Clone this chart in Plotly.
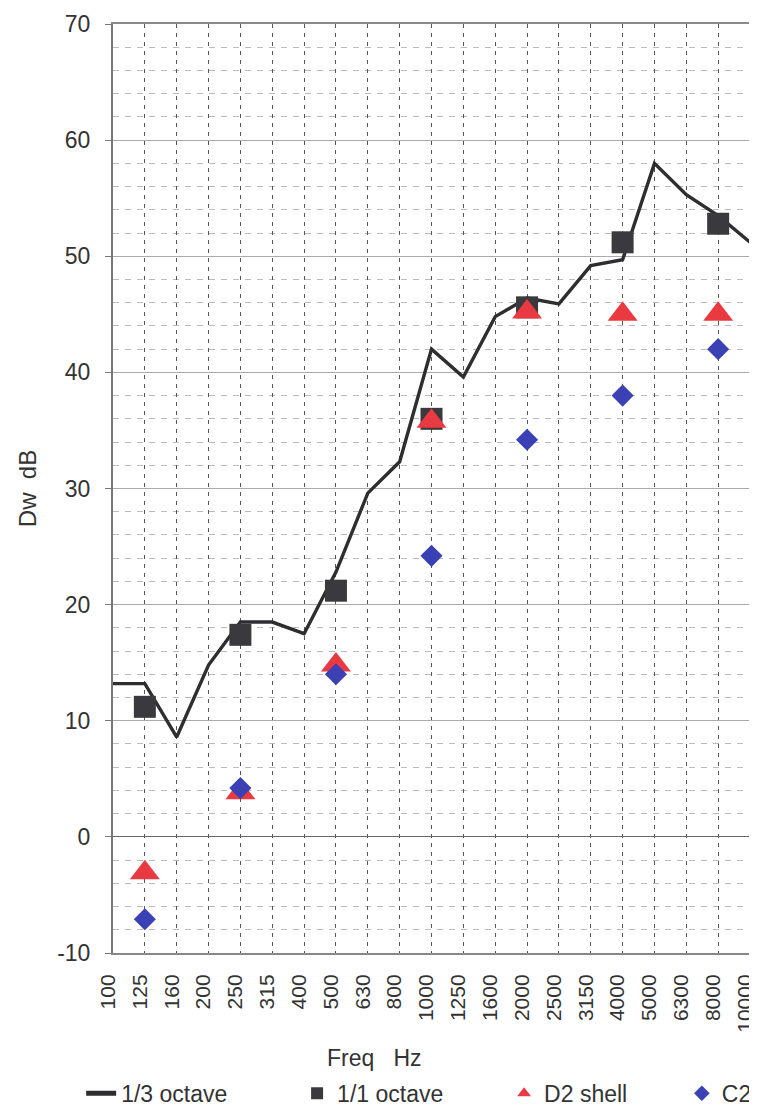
import plotly.graph_objects as go

freqs = ["100", "125", "160", "200", "250", "315", "400", "500", "630", "800",
         "1000", "1250", "1600", "2000", "2500", "3150", "4000", "5000", "6300",
         "8000", "10000"]
third_octave = [13.2, 13.2, 8.6, 14.8, 18.5, 18.5, 17.5, 22.8, 29.6, 32.3,
                42.0, 39.6, 44.8, 46.4, 45.9, 49.2, 49.7, 58.0, 55.3, 53.5, 51.2]

oct_freqs = ["125", "250", "500", "1000", "2000", "4000", "8000"]
one_octave = [11.2, 17.4, 21.2, 36.0, 45.6, 51.2, 52.8]
d2_shell = [-3.1, 3.8, 14.8, 35.8, 45.2, 45.0, 45.0]
c2 = [-7.1, 4.2, 14.0, 24.2, 34.2, 38.0, 42.0]

y_tick_vals = [-10, 0, 10, 20, 30, 40, 50, 60, 70]
y_tick_text = ["-10", "0", "10", "20", "30", "40", "50", "60", "70"]

font_family = "Liberation Sans, Arial, sans-serif"
txt = "#333"

fig = go.Figure()
fig.add_trace(go.Scatter(x=freqs, y=third_octave, mode="lines", name="1/3 octave",
                         line=dict(color="#2e2e30", width=3.4), legend="legend"))
fig.add_trace(go.Scatter(x=oct_freqs, y=one_octave, mode="markers", name="1/1 octave",
                         marker=dict(symbol="square", size=22, color="#3a3a3e"),
                         legend="legend2"))
fig.add_trace(go.Scatter(x=oct_freqs, y=d2_shell, mode="markers", name="D2 shell",
                         marker=dict(symbol="triangle-up", size=26, color="#e83a40"),
                         legend="legend3"))
fig.add_trace(go.Scatter(x=oct_freqs, y=c2, mode="markers", name="C2",
                         marker=dict(symbol="diamond", size=17, color="#3b40b5"),
                         legend="legend4"))

leg_common = dict(orientation="h", xanchor="left", y=-0.151, yanchor="middle",
                  font=dict(size=23, color=txt), bgcolor="rgba(0,0,0,0)",
                  itemsizing="constant")

# page body has an 8px default margin, so the figure is sized to fit inside
fig.update_layout(
    width=749, height=1105,
    margin=dict(l=105, r=7, t=16, b=160, autoexpand=False),
    paper_bgcolor="white", plot_bgcolor="white",
    font=dict(family=font_family, size=22, color=txt),
    showlegend=True,
    legend=dict(x=-0.050, **leg_common),
    legend2=dict(x=0.289, **leg_common),
    legend3=dict(x=0.614, **leg_common),
    legend4=dict(x=0.893, **leg_common),
    xaxis=dict(
        type="category", categoryorder="array", categoryarray=freqs,
        range=[0, 20], tickangle=-90, tickfont=dict(size=21, color=txt),
        ticklabelshift=-5,
        showgrid=True, gridcolor="#555", griddash="4px,5px", gridwidth=1,
        showline=True, linecolor="#888", linewidth=2, mirror=True,
        ticks="outside", ticklen=11, tickcolor="rgba(0,0,0,0)",
        zeroline=False, automargin=False,
    ),
    yaxis=dict(
        range=[-10, 70], tickmode="array", tickvals=y_tick_vals, ticktext=y_tick_text,
        tickfont=dict(size=23, color=txt),
        showgrid=True, gridcolor="#aaa", gridwidth=1,
        minor=dict(dtick=2, tick0=0, showgrid=True, gridcolor="#bbb",
                   griddash="6px,6px", gridwidth=1),
        showline=True, linecolor="#777", linewidth=2, mirror=True,
        ticks="outside", ticklen=6, tickcolor="#777", ticklabelstandoff=10,
        zeroline=True, zerolinecolor="#666", zerolinewidth=1,
        title=dict(text="Dw\u00a0\u00a0dB", font=dict(size=24, color=txt), standoff=14),
        automargin=False,
    ),
    annotations=[dict(text="Freq\u00a0\u00a0\u00a0Hz", xref="paper", yref="paper",
                      x=0.411, y=-0.113, xanchor="center", yanchor="middle",
                      showarrow=False, font=dict(size=23, color=txt))],
)

fig.write_html("out.html")
